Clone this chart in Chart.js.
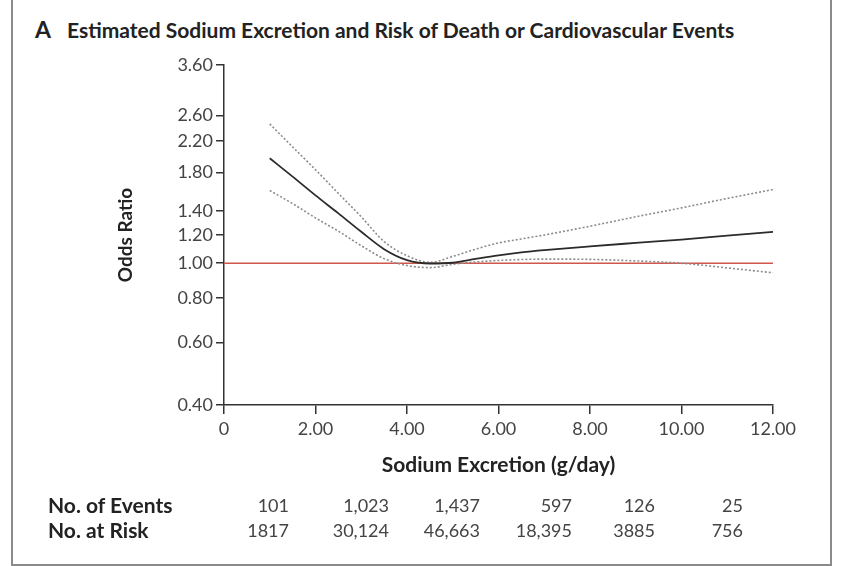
<!DOCTYPE html>
<html>
<head>
<meta charset="utf-8">
<script src="https://cdn.jsdelivr.net/npm/chart.js@4/dist/chart.umd.min.js"></script>
<style>
  html, body { margin: 0; padding: 0; background: #fff; }
  #wrap { position: relative; width: 850px; height: 566px; overflow: hidden; font-family: Lato, "Open Sans", sans-serif; }
  #frame { position: absolute; left: 11px; top: -10px; width: 817px; height: 574px; border: 2px solid #8a8a8a; border-top: none; }
  #title { position: absolute; left: 35px; top: 16px; font-size: 21px; font-weight: 700; color: #222; line-height: 26px; white-space: nowrap; }
  #title .letter { display: inline-block; width: 32px; font-size: 23px; }
  .rowlabel { position: absolute; left: 48px; font-size: 21px; font-weight: 700; color: #222; line-height: 22px; white-space: nowrap; }
  .cell { position: absolute; font-size: 18px; color: #444; line-height: 22px; text-align: right; width: 80px; white-space: nowrap; }
  canvas { position: absolute; left: 0; top: 0; }
</style>
</head>
<body>
<div id="wrap">
  <div id="frame"></div>
  <div id="title"><span class="letter">A</span>Estimated Sodium Excretion and Risk of Death or Cardiovascular Events</div>
  <canvas id="chart" width="850" height="566"></canvas>
  <div id="table"></div>
</div>
<script>
// valores (odds ratio vs excreção de sódio)
const sodium = [1, 1.5, 2, 2.5, 3, 3.5, 4, 4.5, 5, 5.5, 6, 6.5, 7, 8, 9, 10, 11, 12];
const oddsRatio = [1.97, 1.75, 1.55, 1.38, 1.225, 1.095, 1.02, 0.998, 1.003, 1.028, 1.052, 1.072, 1.088, 1.115, 1.14, 1.165, 1.195, 1.225];
const upperCI = [2.46, 2.12, 1.83, 1.57, 1.35, 1.15, 1.05, 1.005, 1.045, 1.095, 1.14, 1.17, 1.2, 1.27, 1.35, 1.43, 1.52, 1.61];
const lowerCI = [1.60, 1.47, 1.34, 1.23, 1.12, 1.03, 0.985, 0.972, 0.993, 1.008, 1.018, 1.024, 1.027, 1.025, 1.015, 1.0, 0.97, 0.94];
const refX = [0, 12];
const refY = [1, 1];
const yTicks = [0.4, 0.6, 0.8, 1.0, 1.2, 1.4, 1.8, 2.2, 2.6, 3.6];
const xTicks = [0, 2, 4, 6, 8, 10, 12];
const noEvents = ['101', '1,023', '1,437', '597', '126', '25'];
const noAtRisk = ['1817', '30,124', '46,663', '18,395', '3885', '756'];

function pts(xs, ys) {
    return xs.map(function (x, i) { return { x: x, y: ys[i] }; });
}

// tabela de eventos abaixo do eixo
(function () {
    const table = document.getElementById('table');
    const rightEdges = [289, 389, 480, 572, 655, 743];
    const rows = [
        { label: 'No. of Events', values: noEvents, top: 494 },
        { label: 'No. at Risk', values: noAtRisk, top: 519 }
    ];
    rows.forEach(function (r) {
        const lab = document.createElement('div');
        lab.className = 'rowlabel';
        lab.style.top = r.top + 'px';
        lab.textContent = r.label;
        table.appendChild(lab);
        r.values.forEach(function (v, i) {
            const c = document.createElement('div');
            c.className = 'cell';
            c.style.top = r.top + 'px';
            c.style.left = (rightEdges[i] - 80) + 'px';
            c.textContent = v;
            table.appendChild(c);
        });
    });
})();

const axisColor = '#333';
const tickFont = { family: 'Lato', size: 18 };

new Chart(document.getElementById('chart').getContext('2d'), {
    type: 'line',
    data: {
        datasets: [
            { data: pts(sodium, oddsRatio), borderColor: '#2b2b2b', borderWidth: 1.8, pointRadius: 0, cubicInterpolationMode: 'monotone', order: 0 },
            { data: pts(sodium, upperCI), borderColor: '#8c8c8c', borderWidth: 1.6, borderDash: [2, 2], pointRadius: 0, cubicInterpolationMode: 'monotone', order: 1 },
            { data: pts(sodium, lowerCI), borderColor: '#8c8c8c', borderWidth: 1.6, borderDash: [2, 2], pointRadius: 0, cubicInterpolationMode: 'monotone', order: 2 },
            { data: pts(refX, refY), borderColor: '#d2564c', borderWidth: 1.5, pointRadius: 0, order: 3 }
        ]
    },
    options: {
        responsive: false,
        animation: false,
        devicePixelRatio: 1,
        layout: { padding: { left: 114, top: 65, right: 77, bottom: 81 } },
        plugins: { legend: { display: false }, tooltip: { enabled: false } },
        scales: {
            x: {
                type: 'linear',
                min: 0,
                max: 12,
                afterFit: function (s) { s.height = 80; },
                afterBuildTicks: function (s) { s.ticks = xTicks.map(function (v) { return { value: v }; }); },
                ticks: {
                    color: '#444',
                    font: tickFont,
                    padding: 4,
                    maxRotation: 0,
                    callback: function (v) { return v === 0 ? '0' : Number(v).toFixed(2); }
                },
                grid: { drawOnChartArea: false, drawTicks: true, tickLength: 9, color: axisColor, lineWidth: 1.5 },
                border: { display: true, color: axisColor, width: 1.5 },
                title: { display: true, text: 'Sodium Excretion (g/day)', color: '#222', font: { family: 'Lato', size: 21, weight: 'bold' }, padding: { top: 0, bottom: 7 } }
            },
            y: {
                type: 'logarithmic',
                min: 0.4,
                max: 3.6,
                afterFit: function (s) { s.width = 110; },
                afterBuildTicks: function (s) { s.ticks = yTicks.map(function (v) { return { value: v }; }); },
                ticks: {
                    color: '#444',
                    font: tickFont,
                    padding: 3,
                    callback: function (v) { return Number(v).toFixed(2); }
                },
                grid: { drawOnChartArea: false, drawTicks: true, tickLength: 8, color: axisColor, lineWidth: 1.5 },
                border: { display: true, color: axisColor, width: 1.5 },
                title: { display: true, text: 'Odds Ratio', color: '#222', font: { family: 'Lato', size: 19, weight: 'bold' }, padding: { top: 0, bottom: 0 } }
            }
        }
    }
});
</script>
</body>
</html>
